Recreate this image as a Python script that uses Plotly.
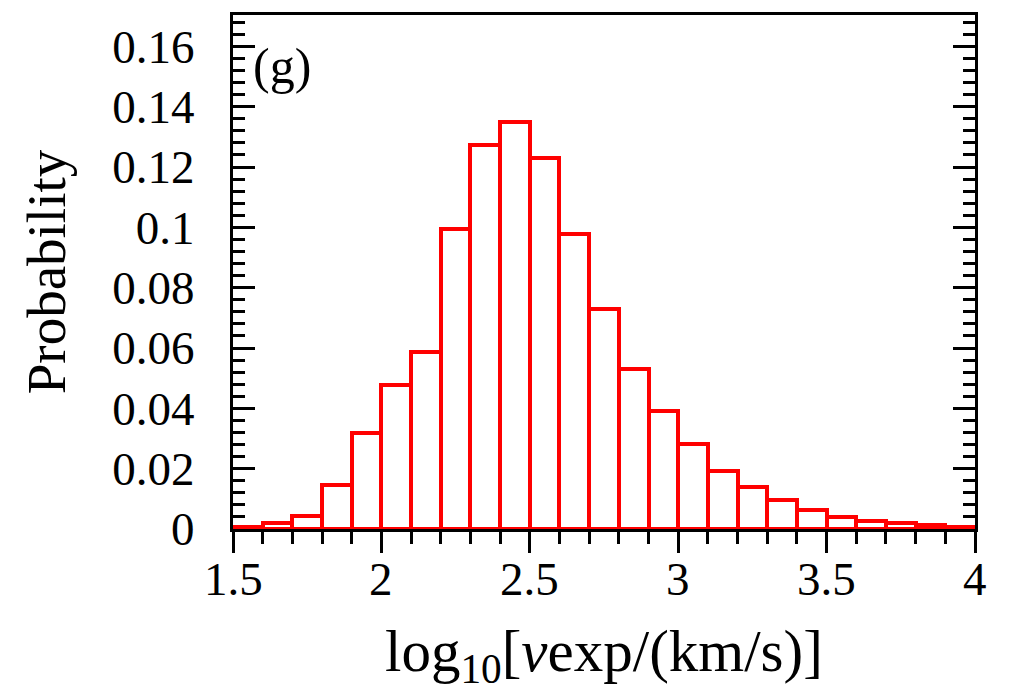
import plotly.graph_objects as go

# Histogram bins (left edges) and probabilities
bin_left = [1.5, 1.6, 1.7, 1.8, 1.9, 2.0, 2.1, 2.2, 2.3, 2.4, 2.5, 2.6, 2.7,
            2.8, 2.9, 3.0, 3.1, 3.2, 3.3, 3.4, 3.5, 3.6, 3.7, 3.8, 3.9]
bin_width = 0.1
probability = [0.0008, 0.0019, 0.0044, 0.0145, 0.0317, 0.0477, 0.0587, 0.0996,
               0.1273, 0.1348, 0.1230, 0.0978, 0.0730, 0.0530, 0.0390, 0.0282,
               0.0192, 0.0139, 0.0097, 0.0063, 0.0041, 0.0027, 0.0021, 0.0012,
               0.0008]

x_tickvals = [1.5, 2.0, 2.5, 3.0, 3.5, 4.0]
x_ticktext = ["1.5", "2", "2.5", "3", "3.5", "4"]
y_tickvals = [0, 0.02, 0.04, 0.06, 0.08, 0.10, 0.12, 0.14, 0.16]
y_ticktext = ["0", "0.02", "0.04", "0.06", "0.08", "0.1", "0.12", "0.14", "0.16"]

centers = [b + bin_width / 2 for b in bin_left]

FONT = "Liberation Serif"

fig = go.Figure()
fig.add_trace(go.Bar(
    x=centers, y=probability, width=[bin_width] * len(centers),
    marker=dict(color="white", line=dict(color="#ff0000", width=4)),
    showlegend=False,
))

annotations = [dict(
    text="(g)", xref="paper", yref="paper", x=0.024, y=0.9,
    xanchor="left", yanchor="middle", showarrow=False,
    font=dict(family=FONT, size=50, color="black"),
)]
# x tick labels placed on the data scale
for v, t in zip(x_tickvals, x_ticktext):
    annotations.append(dict(
        text=t, xref="x", yref="paper", x=v, y=-0.098,
        xanchor="center", yanchor="middle", showarrow=False,
        font=dict(family=FONT, size=47, color="black"),
    ))
# x axis title
annotations.append(dict(
    text="log<sub>10</sub>[<i>v</i>exp/(km/s)]", xref="paper", yref="paper",
    x=0.5, y=-0.245, xanchor="center", yanchor="middle", showarrow=False,
    font=dict(family=FONT, size=59, color="black"),
))

fig.update_layout(
    width=1013, height=691,
    margin=dict(l=233, r=38, t=12, b=162),
    plot_bgcolor="white", paper_bgcolor="white",
    bargap=0,
    font=dict(family=FONT, color="black", size=46),
    xaxis=dict(
        range=[1.5, 4.0],
        tickvals=x_tickvals, ticktext=x_ticktext, showticklabels=False,
        ticks="outside", ticklen=21, tickwidth=2.5, tickcolor="black",
        minor=dict(dtick=0.1, tick0=1.5, ticks="outside", ticklen=12,
                   tickwidth=2.5, tickcolor="black"),
        showline=True, linecolor="black", linewidth=3, mirror=True,
        showgrid=False, zeroline=False,
    ),
    yaxis=dict(
        range=[0, 0.1704],
        tickvals=y_tickvals, ticktext=y_ticktext,
        ticks="inside", ticklen=22, tickwidth=2.5, tickcolor="black",
        minor=dict(dtick=0.004, tick0=0, ticks="inside", ticklen=12,
                   tickwidth=2.5, tickcolor="black"),
        showline=True, linecolor="black", linewidth=3, mirror="ticks",
        showgrid=False, zeroline=False,
        ticklabelstandoff=26,
        tickfont=dict(family=FONT, size=47, color="black"),
        title=dict(text="Probability",
                   font=dict(family=FONT, size=55, color="black"), standoff=30),
    ),
    annotations=annotations,
)

fig.write_html("out.html")
